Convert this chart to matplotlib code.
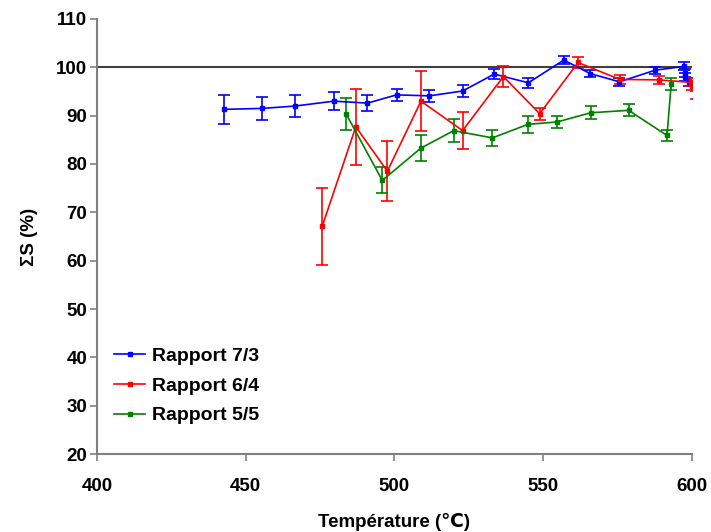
import matplotlib
matplotlib.use('Agg')
import matplotlib.pyplot as plt

plt.rcParams['font.family'] = ['Liberation Sans', 'DejaVu Sans']
plt.rcParams['font.weight'] = 'bold'

# Rapport 7/3
t_73 = [442.6, 455.6, 466.7, 479.6, 490.9, 500.7, 511.7, 522.9, 533.5, 545.0,
        556.9, 565.8, 575.6, 587.6, 597.3, 597.6, 597.8, 598.9]
s_73 = [91.3, 91.5, 92.0, 93.0, 92.6, 94.3, 94.1, 95.1, 98.6, 96.8,
        101.5, 98.7, 97.0, 99.4, 100.2, 98.8, 98.0, 96.9]
e_73 = [3.0, 2.3, 2.2, 1.9, 1.7, 1.2, 1.2, 1.2, 1.1, 1.0,
        0.8, 0.8, 0.8, 0.7, 0.8, 0.8, 0.8, 0.8]

# Rapport 6/4
t_64 = [475.7, 487.0, 497.6, 508.9, 522.9, 536.6, 548.8, 561.7, 575.7, 588.8,
        599.5, 600.0, 601.5]
s_64 = [67.1, 87.7, 78.5, 93.0, 86.9, 98.1, 90.4, 101.0, 97.5, 97.4,
        96.9, 96.2, 94.2]
e_64 = [8.0, 7.9, 6.2, 6.2, 3.9, 2.2, 1.2, 1.1, 1.0, 0.8,
        0.8, 0.8, 0.8]

# Rapport 5/5
t_55 = [483.7, 495.9, 508.9, 519.9, 532.9, 544.8, 554.7, 565.9, 578.7, 591.6, 593.0]
s_55 = [90.4, 76.6, 83.3, 86.9, 85.4, 88.2, 88.7, 90.6, 91.1, 85.9, 96.5]
e_55 = [3.3, 2.7, 2.6, 2.4, 1.7, 1.75, 1.3, 1.3, 1.25, 1.1, 1.2]

series = [
    ('Rapport 7/3', t_73, s_73, e_73, '#0000FF'),
    ('Rapport 6/4', t_64, s_64, e_64, '#FF0000'),
    ('Rapport 5/5', t_55, s_55, e_55, '#008000'),
]

fig = plt.figure(figsize=(7.11, 5.32), dpi=100)
ax = fig.add_axes([0.1364, 0.1466, 0.8369, 0.8177])

ax.axhline(100, color='#404040', lw=1.5, zorder=1)

for label, t, s, e, c in series:
    ax.errorbar(t, s, yerr=e, color=c, lw=1.2, marker='s', markersize=3.5,
                capsize=4, capthick=1.2, elinewidth=1.2, label=label, zorder=3)

ax.set_xlim(400, 600)
ax.set_ylim(20, 110)
ax.set_xticks([400, 450, 500, 550, 600])
ax.set_yticks(range(20, 111, 10))

for side in ['top', 'right']:
    ax.spines[side].set_visible(False)
for side in ['left', 'bottom']:
    ax.spines[side].set_color('#808080')
    ax.spines[side].set_linewidth(1.5)
ax.tick_params(axis='both', colors='#808080', labelcolor='black', labelsize=13.5,
               length=5, width=1.2)
ax.tick_params(axis='x', pad=12)
ax.tick_params(axis='y', pad=2)
for lbl in ax.get_xticklabels() + ax.get_yticklabels():
    lbl.set_fontweight('bold')

ax.set_xlabel('Température (℃)', fontsize=13.5, fontweight='bold', labelpad=13)
ax.set_ylabel('ΣS (%)', fontsize=13.5, fontweight='bold', labelpad=13)

handles, labels = ax.get_legend_handles_labels()
handles = [h[0] for h in handles]
ax.legend(handles, labels, loc='upper left', bbox_to_anchor=(0.0, 0.285),
          frameon=False, prop={'size': 14, 'weight': 'bold'},
          handlelength=1.55, labelspacing=0.62, handletextpad=0.4)

fig.savefig('out.png', dpi=100)
